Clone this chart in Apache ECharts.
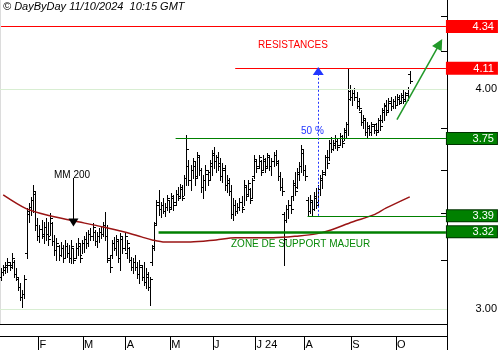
<!DOCTYPE html>
<html><head><meta charset="utf-8">
<script src="https://cdn.jsdelivr.net/npm/echarts@6/dist/echarts.min.js"></script>
<style>html,body{margin:0;padding:0;background:#fff}#c{width:500px;height:350px}</style>
</head><body><div id="c"></div>
<script>
// ---- calendar (trading days) ----
const startDate = '2024-01-08';
const holidays = ['2024-03-29','2024-04-01','2024-05-01','2024-05-09','2024-05-20'];
const categoryCount = 210;
const monthLabels = ['F','M','A','M','J','J 24','A','S','O'];

// ---- daily OHLC ----
const highs = [
3.166,3.179,3.192,3.208,3.192,3.229,3.200,3.166,3.125,3.105,
3.077,3.138,3.425,3.448,3.475,3.530,3.498,3.381,3.350,3.372,
3.363,3.381,3.363,3.403,3.363,3.306,3.294,3.263,3.276,
3.263,3.285,3.272,3.263,3.285,3.251,3.272,3.294,3.268,3.285,
3.302,3.319,3.328,3.337,3.359,3.328,3.319,3.337,3.346,3.363,
3.407,3.350,3.221,3.285,3.298,3.306,3.285,3.315,3.298,3.315,
3.285,3.255,3.213,3.208,3.221,3.192,3.200,3.179,3.192,
3.166,3.150,3.130,3.263,3.363,3.461,3.507,3.452,3.470,3.448,
3.484,3.461,3.493,3.484,3.507,3.521,3.535,3.530,3.576,3.768,
3.647,3.623,3.657,3.638,3.685,3.671,3.609,3.576,3.623,3.600,
3.647,3.695,3.709,3.671,3.685,3.657,3.633,3.623,3.576,
3.562,3.530,3.470,3.461,3.448,3.470,3.479,3.553,3.530,3.553,
3.516,3.562,3.671,3.647,3.671,3.647,3.671,3.657,3.681,3.666,
3.657,3.685,3.695,3.647,3.590,3.562,3.407,3.439,3.461,3.479,
3.553,3.590,3.609,3.638,3.719,3.695,3.623,3.475,3.484,
3.461,3.498,3.516,3.530,3.576,3.600,3.671,3.695,3.744,3.758,
3.744,3.768,3.753,3.778,3.768,3.803,3.833,4.114,4.022,3.996,
4.006,3.986,3.955,3.893,3.868,3.853,3.833,3.818,3.833,3.818,
3.828,3.853,3.868,3.903,3.928,3.944,3.955,3.960,3.950,
3.965,3.975,3.971,3.981,3.996,3.986,4.012,4.096];
const lows = [
3.117,3.138,3.146,3.150,3.158,3.166,3.130,3.117,3.077,3.037,
3.009,3.045,3.208,3.363,3.394,3.407,3.328,3.285,3.276,3.294,
3.272,3.285,3.263,3.306,3.263,3.221,3.200,3.200,3.217,
3.192,3.208,3.213,3.192,3.187,3.187,3.208,3.221,3.192,3.229,
3.234,3.251,3.259,3.285,3.285,3.263,3.255,3.276,3.294,3.302,
3.285,3.192,3.150,3.208,3.242,3.221,3.192,3.158,3.229,3.242,
3.208,3.192,3.158,3.146,3.158,3.125,3.105,3.117,3.097,
3.085,3.077,3.017,3.179,3.242,3.350,3.394,3.385,3.403,3.390,
3.416,3.407,3.425,3.416,3.439,3.461,3.470,3.461,3.484,3.530,
3.530,3.507,3.562,3.530,3.562,3.576,3.498,3.470,3.507,3.530,
3.553,3.576,3.609,3.590,3.600,3.553,3.544,3.507,3.498,
3.484,3.381,3.372,3.394,3.403,3.416,3.407,3.439,3.461,3.479,
3.448,3.470,3.562,3.590,3.609,3.576,3.600,3.590,3.609,3.600,
3.576,3.618,3.623,3.553,3.507,3.484,3.179,3.363,3.381,3.403,
3.461,3.484,3.516,3.553,3.590,3.576,3.553,3.394,3.403,
3.394,3.416,3.425,3.439,3.484,3.516,3.576,3.609,3.647,3.685,
3.695,3.705,3.695,3.719,3.709,3.744,3.753,3.768,3.944,3.918,
3.944,3.903,3.893,3.818,3.803,3.768,3.758,3.768,3.768,3.778,
3.768,3.783,3.793,3.833,3.843,3.868,3.883,3.893,3.903,
3.903,3.918,3.923,3.934,3.928,3.944,3.944,4.033];
const opens = [
3.13,3.15,3.16,3.17,3.18,3.18,3.19,3.14,3.12,3.09,
3.05,3.06,3.23,3.40,3.43,3.46,3.49,3.35,3.30,3.33,
3.30,3.34,3.31,3.30,3.36,3.28,3.24,3.26,3.22,
3.25,3.21,3.26,3.23,3.21,3.25,3.21,3.25,3.26,3.22,
3.27,3.29,3.27,3.31,3.30,3.32,3.28,3.30,3.32,3.31,
3.35,3.30,3.20,3.22,3.27,3.25,3.28,3.21,3.29,3.25,
3.23,3.25,3.20,3.17,3.19,3.17,3.14,3.17,3.13,
3.11,3.13,3.09,3.19,3.26,3.36,3.45,3.42,3.44,3.41,
3.43,3.46,3.43,3.47,3.45,3.49,3.48,3.51,3.48,3.56,
3.62,3.55,3.60,3.62,3.57,3.66,3.60,3.52,3.55,3.58,
3.59,3.62,3.67,3.64,3.66,3.63,3.57,3.60,3.53,
3.54,3.50,3.40,3.44,3.41,3.43,3.45,3.43,3.52,3.49,
3.51,3.47,3.57,3.64,3.62,3.64,3.60,3.64,3.62,3.66,
3.62,3.64,3.67,3.63,3.57,3.52,3.40,3.37,3.42,3.44,
3.48,3.53,3.52,3.58,3.62,3.68,3.60,3.46,3.41,
3.45,3.42,3.47,3.45,3.51,3.55,3.59,3.66,3.66,3.73,
3.70,3.72,3.74,3.72,3.76,3.74,3.78,3.82,3.99,3.96,
3.98,3.96,3.94,3.88,3.83,3.84,3.78,3.80,3.78,3.81,
3.82,3.79,3.84,3.84,3.88,3.91,3.89,3.93,3.91,
3.94,3.92,3.95,3.94,3.96,3.95,3.97,4.08];
const closes = [
3.15,3.17,3.18,3.19,3.17,3.21,3.14,3.13,3.09,3.05,
3.06,3.12,3.41,3.43,3.46,3.50,3.35,3.30,3.33,3.31,
3.34,3.31,3.29,3.38,3.28,3.24,3.27,3.22,3.25,
3.21,3.26,3.23,3.21,3.26,3.20,3.25,3.27,3.21,3.27,
3.29,3.27,3.31,3.30,3.34,3.28,3.30,3.32,3.31,3.35,
3.30,3.21,3.17,3.27,3.25,3.29,3.21,3.30,3.25,3.30,
3.27,3.20,3.17,3.19,3.17,3.14,3.18,3.13,3.11,
3.14,3.09,3.12,3.25,3.35,3.44,3.42,3.44,3.41,3.43,
3.47,3.42,3.48,3.44,3.49,3.47,3.52,3.47,3.56,3.70,
3.55,3.60,3.64,3.56,3.67,3.60,3.52,3.55,3.60,3.55,
3.63,3.68,3.64,3.66,3.62,3.57,3.61,3.53,3.55,
3.50,3.40,3.44,3.41,3.43,3.45,3.42,3.53,3.48,3.54,
3.46,3.55,3.65,3.61,3.66,3.59,3.65,3.61,3.67,3.62,
3.64,3.67,3.64,3.57,3.52,3.50,3.29,3.42,3.44,3.42,
3.54,3.50,3.59,3.62,3.70,3.60,3.57,3.41,3.46,
3.42,3.48,3.44,3.51,3.56,3.58,3.66,3.63,3.73,3.70,
3.73,3.75,3.71,3.76,3.73,3.79,3.82,3.95,3.96,3.98,
3.96,3.91,3.90,3.83,3.85,3.78,3.81,3.78,3.82,3.79,
3.78,3.84,3.81,3.89,3.92,3.88,3.94,3.91,3.94,
3.92,3.96,3.93,3.97,3.94,3.98,4.00,4.04];

// ---- 200-day moving average (read at sample days) ----
const maIdx = [1,12,23,34,48,58,66,71,77,89,101,110,128,140,148,155,165,175,181,192];
const maVal = [3.484,3.421,3.390,3.368,3.341,3.319,3.298,3.285,3.276,3.276,3.285,3.294,3.294,3.302,3.311,3.328,3.363,3.394,3.425,3.475];

// ---- axis ----
const yMin = 2.9435, yMax = 4.4931;
const yTicks = [3.0,3.2,3.4,3.6,3.8,4.0,4.2,4.4];
const yLabels = [3.0,4.0];
const gridValues = [3.0,4.0];

// ---- annotations (data coordinates) ----
const levelValues = [4.34, 4.11, 3.75, 3.39, 3.32];
const levelStart = [0, 110, 82, 144, 74];
const fiftyIdx = 149, fiftyFrom = 3.39, fiftyTo = 4.095;
const mmIdx = 34, mmFrom = 3.562, mmTo = 3.36;
const trendFrom = [186, 3.843], trendTo = [206, 4.243];

// ---------------------------------------------------------------
const FONT = 'Arial, "Liberation Sans", sans-serif';
const dates = [];
{
  let t = Date.UTC(2024,0,8);
  while (dates.length < categoryCount) {
    const d = new Date(t);
    const s = d.toISOString().slice(0,10);
    const wd = d.getUTCDay();
    if (wd !== 0 && wd !== 6 && !holidays.includes(s) && s >= startDate) dates.push(s);
    t += 86400000;
  }
}
const monthStartLabel = {};
{
  let k = 0;
  for (let i = 1; i < dates.length; i++) {
    if (dates[i].slice(5,7) !== dates[i-1].slice(5,7) && k < monthLabels.length) {
      monthStartLabel[i] = monthLabels[k++];
    }
  }
}
const lastIdx = categoryCount - 1;
const ohlc = highs.map((h,i)=>[i, opens[i], h, lows[i], closes[i]]);

function renderOHLC(params, api) {
  const i = api.value(0);
  const pO = api.coord([i, api.value(1)]);
  const pH = api.coord([i, api.value(2)]);
  const pL = api.coord([i, api.value(3)]);
  const pC = api.coord([i, api.value(4)]);
  const xi = Math.round(pH[0]);
  const x = xi + 0.5;
  const yo = Math.round(pO[1]) + 0.5, yc = Math.round(pC[1]) + 0.5;
  const st = {stroke:'#000', lineWidth:1};
  return {type:'group', children:[
    {type:'line', shape:{x1:x, y1:Math.round(pH[1]), x2:x, y2:Math.round(pL[1])+1}, style:st},
    {type:'line', shape:{x1:xi-2, y1:yo, x2:xi, y2:yo}, style:st},
    {type:'line', shape:{x1:xi+1, y1:yc, x2:xi+3, y2:yc}, style:st}
  ]};
}

const levelColors = ['#ff0000','#ff0000','#008000','#008000','#008000'];
const levelWidths = [1,1,1,1,2.5];
const levelBorders = ['#ff0000','#ff0000','#003300','#003300','#003300'];
const annotations = levelValues.map((v,k)=>[
  {coord:[levelStart[k], v], symbol:'none',
   lineStyle:{color:levelColors[k], width:levelWidths[k], type:'solid', opacity:1},
   label:{show:true, position:'end', distance:1, formatter:'{a|'+v.toFixed(2)+'}',
     rich:{a:{color:'#fff', backgroundColor:levelColors[k], borderColor:levelBorders[k], borderWidth:1,
       width:44, height:10, lineHeight:10, align:'right', padding:[1,3,0,3], fontSize:11, fontFamily:FONT}}}},
  {coord:[lastIdx, v], symbol:'none', lineStyle:{color:levelColors[k], width:levelWidths[k], type:'solid', opacity:1}}
]);
annotations.push([
  {coord:[fiftyIdx, fiftyFrom], symbol:'none', lineStyle:{color:'#2236ff', width:1, type:[2,2]}, label:{show:false}},
  {coord:[fiftyIdx, fiftyTo], symbol:'triangle', symbolSize:[11,8]}
]);
annotations.push([
  {coord:[mmIdx, mmFrom], symbol:'none', lineStyle:{color:'#000', width:1, type:'solid'}, label:{show:false}},
  {coord:[mmIdx, mmTo], symbol:'triangle', symbolSize:[10,8]}
]);
annotations.push([
  {coord:trendFrom, symbol:'none', lineStyle:{color:'#22992a', width:1.5, type:'solid'}, label:{show:false}},
  {coord:trendTo, symbol:'triangle', symbolSize:[11,11]}
]);

const chart = echarts.init(document.getElementById('c'), null, {renderer:'canvas'});
chart.setOption({
  animation:false,
  backgroundColor:'#fff',
  textStyle:{fontFamily:FONT},
  grid:{left:0, right:53, top:0, bottom:26, containLabel:false},
  xAxis:[
    {type:'category', data:dates, boundaryGap:true,
     axisLine:{show:true, lineStyle:{color:'#000', width:1}}, axisTick:{show:false}, axisLabel:{show:false}, splitLine:{show:false}},
    {type:'category', data:dates, boundaryGap:true, position:'bottom', offset:12,
     axisLine:{show:true, lineStyle:{color:'#000', width:1}},
     axisTick:{show:true, length:14, interval:(i)=>monthStartLabel[i]!==undefined, lineStyle:{color:'#000'}},
     axisLabel:{show:true, interval:(i)=>monthStartLabel[i]!==undefined, formatter:(v,i)=>monthStartLabel[i]||'',
       align:'left', margin:3, fontSize:11, color:'#000', fontFamily:FONT},
     splitLine:{show:false}}
  ],
  yAxis:[{
    type:'log', logBase:10, position:'right', min:yMin, max:yMax,
    axisLine:{show:true, lineStyle:{color:'#000', width:1}},
    axisTick:{show:true, inside:true, length:6, customValues:yTicks, lineStyle:{color:'#000'}},
    axisLabel:{show:true, customValues:yLabels, formatter:(v)=>Number(v).toFixed(2), color:'#000', fontSize:11,
      align:'right', margin:50, fontFamily:FONT},
    splitLine:{show:false}
  }],
  graphic:[
    {type:'line', shape:{x1:0.5, y1:0, x2:0.5, y2:324}, style:{stroke:'#dcdcdc', lineWidth:1}, silent:true},
    {type:'line', shape:{x1:447.5, y1:324, x2:447.5, y2:350}, style:{stroke:'#000', lineWidth:1}, silent:true},
    {type:'text', x:3, y:7, style:{text:'© DayByDay 11/10/2024  10:15 GMT', font:'italic 11px '+FONT, fill:'#000', verticalAlign:'middle'}},
    {type:'text', x:258, y:45, style:{text:'RESISTANCES', font:'10px '+FONT, fill:'#ff0000', verticalAlign:'middle'}},
    {type:'text', x:231, y:244, style:{text:'ZONE DE SUPPORT MAJEUR', font:'10px '+FONT, fill:'#0a8a0a', verticalAlign:'middle'}},
    {type:'text', x:54, y:175, style:{text:'MM 200', font:'10px '+FONT, fill:'#000', verticalAlign:'middle'}},
    {type:'text', x:301, y:131, style:{text:'50 %', font:'10px '+FONT, fill:'#2236ff', verticalAlign:'middle'}}
  ],
  series:[
    {type:'line', data:[], z:1, silent:true,
     markLine:{silent:true, symbol:'none', label:{show:false}, lineStyle:{color:'#d8eed2', width:1, type:'solid'},
       data:gridValues.map(v=>({yAxis:v}))}},
    {type:'custom', name:'OHLC', data:ohlc, renderItem:renderOHLC, z:3,
     encode:{x:0, y:[1,2,3,4]}, dimensions:['idx','open','high','low','close']},
    {type:'line', name:'MM 200', data:maIdx.map((x,k)=>[x, maVal[k]]), showSymbol:false, smooth:0.3, z:4,
     lineStyle:{color:'#9a1414', width:1.5}},
    {type:'line', data:[], z:5, silent:true,
     markLine:{silent:true, symbol:'none', data:annotations}}
  ]
});
</script>
</body></html>
